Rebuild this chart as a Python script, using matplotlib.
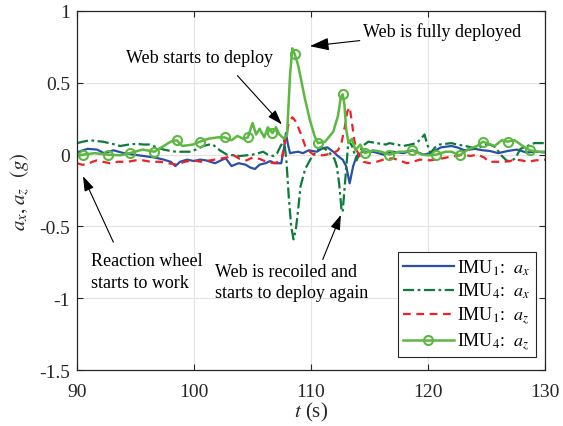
import numpy as np
import matplotlib
matplotlib.use("Agg")
import matplotlib.pyplot as plt

plt.rcParams['font.family'] = ['Liberation Serif', 'DejaVu Serif']
plt.rcParams['mathtext.fontset'] = 'stix'

# IMU1 a_x
t_b = [90.0, 90.5, 90.9, 91.7, 92.3, 93.1, 94.0, 94.8, 95.7, 96.6, 97.4, 98.0, 98.4, 98.8,
       99.4, 100.0, 100.5, 101.0, 101.8, 102.3, 102.7, 103.2, 103.8, 104.4, 104.8, 105.2,
       105.6, 106.1, 106.5, 106.9, 107.45, 107.7, 107.85, 108.0, 108.2, 108.5, 108.9, 109.3,
       109.8, 110.5, 111.0, 111.4, 111.9, 112.3, 112.7, 113.0, 113.3, 113.6, 113.9, 114.4,
       115.3, 116.2, 117.0, 117.9, 118.7, 119.6, 120.2, 121.1, 122.0, 122.5, 123.1, 124.0,
       124.7, 125.3, 126.0, 126.8, 127.6, 128.4, 129.2, 130.0]
v_b = [0.015, 0.03, 0.04, 0.035, 0.01, 0.03, 0.01, 0.0, -0.01, -0.02, -0.035, -0.05, -0.08, -0.05,
       -0.035, -0.045, -0.035, -0.04, -0.06, -0.04, -0.025, -0.08, -0.06, -0.07, -0.09, -0.1,
       -0.07, -0.06, -0.045, -0.06, -0.06, 0.05, 0.15, 0.08, 0.01, 0.015, 0.02, 0.01,
       0.03, 0.02, 0.045, 0.05, 0.02, -0.01, -0.035, -0.08, -0.2, -0.08, -0.01, 0.02,
       0.02, 0.0, 0.02, 0.01, 0.03, 0.0, 0.01, 0.05, 0.06, 0.05, 0.03, 0.04,
       0.03, 0.025, 0.01, 0.025, 0.035, 0.015, 0.02, 0.015]

# IMU4 a_x
t_dg = [90.0, 90.5, 91.1, 91.6, 92.2, 93.0, 93.7, 94.4, 95.1, 95.7, 96.2, 96.8, 97.4, 98.0,
        98.5, 99.1, 99.7, 100.3, 100.8, 101.3, 101.6, 102.2, 102.8, 103.4, 103.9, 104.5,
        105.0, 105.5, 105.9, 106.3, 106.8, 107.1, 107.4, 107.7, 107.9, 108.1, 108.3, 108.5,
        108.7, 108.9, 109.1, 109.5, 110.1, 110.8, 111.2, 111.6, 112.0, 112.2, 112.4, 112.6,
        112.7, 112.85, 113.0, 113.2, 113.5, 113.9, 114.4, 114.9, 115.6, 116.4, 116.7, 117.3,
        117.9, 118.5, 119.0, 119.4, 119.7, 119.9, 120.2, 120.6, 121.0, 122.0, 122.5, 123.2,
        123.7, 124.2, 124.8, 125.3, 125.8, 126.2, 126.7, 127.1, 127.5, 127.9, 128.5, 129.1,
        129.6, 130.0]
v_dg = [0.08, 0.09, 0.10, 0.095, 0.09, 0.075, 0.06, 0.07, 0.075, 0.07, 0.07, 0.05, 0.035, 0.025,
        0.02, 0.02, 0.02, 0.04, 0.06, 0.07, 0.07, 0.03, 0.0, -0.005, -0.01, -0.005,
        0.0, 0.01, 0.02, 0.0, -0.01, 0.01, 0.06, 0.1, -0.05, -0.3, -0.5, -0.59,
        -0.52, -0.38, -0.22, -0.1, -0.01, 0.05, 0.04, 0.01, -0.03, -0.08, -0.2, -0.38,
        -0.40, -0.25, -0.1, 0.1, 0.06, -0.04, 0.06, 0.09, 0.08, 0.07, 0.08, 0.07,
        0.06, 0.07, 0.08, 0.11, 0.14, 0.08, 0.01, 0.05, 0.07, 0.08, 0.07, 0.06,
        0.05, 0.04, 0.07, 0.07, 0.05, 0.0, -0.04, -0.05, -0.02, 0.04, 0.06, 0.08,
        0.08, 0.08]

# IMU1 a_z
t_r = [90.0, 90.4, 90.8, 91.3, 91.7, 92.2, 92.8, 93.5, 94.3, 95.0, 95.6, 96.3, 97.1, 97.8,
       98.5, 99.2, 99.9, 100.6, 101.4, 102.1, 102.8, 103.3, 103.9, 104.5, 105.0, 105.6,
       106.2, 106.8, 107.2, 107.5, 107.8, 108.1, 108.4, 108.7, 109.1, 109.5, 109.9, 110.2,
       111.0, 111.9, 112.3, 112.6, 112.9, 113.1, 113.3, 113.5, 113.7, 113.9, 114.2, 114.5,
       115.0, 115.6, 116.2, 117.0, 117.5, 118.2, 118.7, 119.3, 120.2, 121.0, 121.6, 122.3,
       123.1, 123.6, 124.2, 124.8, 125.2, 125.9, 126.5, 127.0, 127.4, 128.0, 128.5, 129.2,
       130.0]
v_r = [-0.06, -0.07, -0.07, -0.05, -0.04, -0.05, -0.06, -0.05, -0.05, -0.04, -0.04, -0.05, -0.05, -0.06,
       -0.07, -0.05, -0.04, -0.05, -0.04, -0.03, -0.02, 0.0, -0.03, -0.04, -0.02, -0.03,
       -0.05, -0.06, -0.05, -0.02, 0.10, 0.22, 0.26, 0.23, 0.15, 0.06, 0.02, 0.0,
       -0.005, 0.01, 0.03, 0.08, 0.2, 0.3, 0.33, 0.22, 0.1, 0.03, -0.02, -0.05,
       -0.06, -0.05, -0.035, -0.025, -0.04, -0.06, -0.05, -0.035, -0.04, -0.03, -0.02, -0.01,
       0.0, -0.01, 0.0, -0.02, -0.05, -0.05, -0.05, -0.045, -0.035, -0.04, -0.05, -0.04,
       -0.035]

# IMU4 a_z
t_g = [90.0, 90.5, 91.5, 92.6, 93.7, 94.5, 95.6, 96.6, 97.4, 98.0, 98.5, 99.0, 99.9, 100.5,
       101.2, 102.0, 102.6, 103.2, 103.7, 104.2, 104.6, 105.0, 105.3, 105.6, 106.0, 106.3,
       106.7, 107.0, 107.3, 107.7, 107.95, 108.2, 108.4, 108.6, 108.9, 109.2, 109.5, 109.9,
       110.3, 110.6, 111.2, 111.9, 112.3, 112.55, 112.7, 112.85, 113.0, 113.2, 113.5, 113.8,
       114.2, 114.6, 115.3, 116.0, 116.7, 117.5, 118.0, 118.6, 119.5, 120.0, 120.7, 121.5,
       122.0, 122.7, 123.5, 124.2, 124.7, 125.7, 126.3, 126.8, 127.4, 128.1, 128.7, 129.4,
       130.0]
v_g = [-0.01, 0.0, 0.01, 0.0, -0.005, 0.01, 0.035, 0.02, 0.06, 0.09, 0.10, 0.06, 0.07, 0.09,
       0.11, 0.12, 0.12, 0.10, 0.13, 0.11, 0.12, 0.22, 0.14, 0.18, 0.12, 0.19,
       0.15, 0.19, 0.14, 0.11, 0.14, 0.55, 0.74, 0.70, 0.62, 0.50, 0.38, 0.24,
       0.13, 0.08, 0.09, 0.16, 0.27, 0.40, 0.42, 0.35, 0.18, 0.08, 0.11, 0.03,
       0.07, 0.01, 0.03, 0.02, 0.0, 0.02, 0.02, 0.03, 0.0, -0.005, 0.0, 0.02,
       0.02, -0.005, 0.04, 0.06, 0.09, 0.06, 0.10, 0.09, 0.10, 0.06, 0.03, 0.02,
       0.02]
marker_t = [90.5, 92.6, 94.5, 96.6, 98.5, 100.5, 102.6, 104.6, 106.7, 108.6,
            110.6, 112.7, 114.6, 116.7, 118.6, 120.7, 122.7, 124.7, 126.8, 128.7]

yticks = [-1.5, -1, -0.5, 0, 0.5, 1]
ytick_labels = ['-1.5', '-1', '-0.5', '0', '0.5', '1']
xticks = [90, 100, 110, 120, 130]

fig = plt.figure(figsize=(5.63, 4.27), dpi=100)
ax = fig.add_axes([0.137, 0.131, 0.831, 0.841])

ax.plot(t_b, v_b, color='#2a4fa8', lw=1.6, label='IMU$_1$:  $a_x$')
ax.plot(t_dg, v_dg, color='#0b7a3a', lw=1.6, ls=(0, (5, 1.6, 1.2, 1.6)), label='IMU$_4$:  $a_x$')
ax.plot(t_r, v_r, color='#ec2227', lw=1.6, ls=(0, (3.5, 2.5)), label='IMU$_1$:  $a_z$')
mk = [t_g.index(m) for m in marker_t]
ax.plot(t_g, v_g, color='#5cb840', lw=1.8, marker='o', markersize=6.5, markerfacecolor='none',
        markeredgewidth=1.5, markevery=mk, label='IMU$_4$:  $a_z$')

ax.set_xlim(90, 130)
ax.set_ylim(-1.5, 1)
ax.set_xticks(xticks)
ax.set_yticks(yticks)
ax.set_yticklabels(ytick_labels)
ax.grid(True, color='#e3e3e3', lw=0.8)
ax.set_axisbelow(True)
ax.tick_params(direction='in', top=True, right=True, labelsize=14, colors='#262626', length=4)
ax.tick_params(axis='x', pad=9)
ax.tick_params(axis='y', pad=5)
for s in ax.spines.values():
    s.set_color('#262626')
    s.set_linewidth(0.9)

ax.set_xlabel('$t$ (s)', fontsize=15, color='#262626', labelpad=0)
ax.set_ylabel('$a_x, a_z$  $(g)$', fontsize=15, color='#262626', labelpad=5)

arrow = dict(arrowstyle='-|>,head_length=0.9,head_width=0.3', color='black', lw=0.8,
             shrinkA=0, shrinkB=0)
ax.annotate('Web is fully deployed', xy=(109.9, 0.755), xytext=(114.4, 0.857),
            fontsize=13, va='center', ha='left', arrowprops=arrow)
ax.text(100.5, 0.676, 'Web starts to deploy', fontsize=13, va='center', ha='center')
ax.annotate('', xy=(107.5, 0.21), xytext=(103.7, 0.55), arrowprops=arrow)
ax.annotate('', xy=(90.5, -0.15), xytext=(93.1, -0.61), arrowprops=arrow)
ax.text(91.2, -0.68, 'Reaction wheel\nstarts to work', fontsize=13, va='top', ha='left',
        linespacing=1.4)
ax.annotate('', xy=(112.55, -0.42), xytext=(111.0, -0.73), arrowprops=arrow)
ax.text(101.8, -0.755, 'Web is recoiled and\nstarts to deploy again', fontsize=13, va='top',
        ha='left', linespacing=1.3)

leg = ax.legend(loc='lower right', bbox_to_anchor=(0.98, 0.035), fontsize=13, frameon=True,
                fancybox=False, framealpha=1, edgecolor='#262626', handlelength=2.8,
                borderpad=0.3, labelspacing=0.25, handletextpad=0.2, borderaxespad=0)
leg.get_frame().set_linewidth(0.8)

fig.savefig('out.png', dpi=100)
